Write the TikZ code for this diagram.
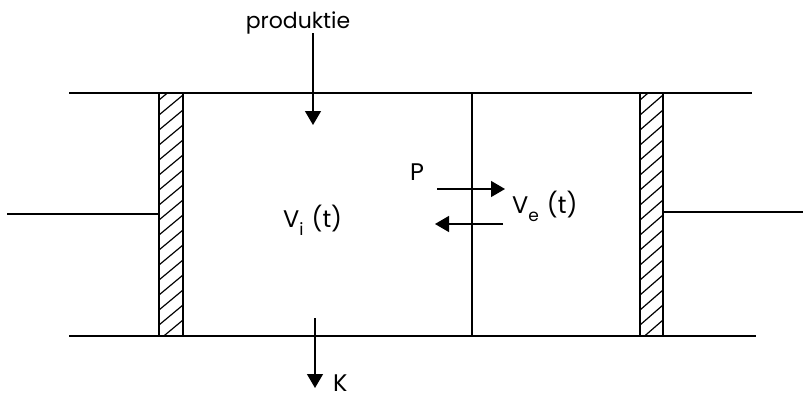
\documentclass[tikz,border=0pt]{standalone}
\usepackage{fontspec}
\setmainfont{Poppins}
\usetikzlibrary{arrows.meta}
\newcommand{\mysub}[1]{\raisebox{-0.36em}{\fontsize{17}{17}\selectfont #1}}
\begin{document}
\begin{tikzpicture}[x=1pt,y=-1pt,
  mainline/.style={line width=1.8pt},
  rodline/.style={line width=1.5pt},
  wallbox/.style={line width=2pt},
  hatchline/.style={line width=1.2pt},
  flow/.style={line width=1.3pt,-{Triangle[width=16pt,length=14pt]}},
  lbl/.style={inner sep=0pt,font=\fontsize{24}{26}\selectfont},
  smalllbl/.style={inner sep=0pt,font=\fontsize{22}{24}\selectfont},
  ]
\useasboundingbox (0,0) rectangle (803,399);
% coordinates
\coordinate (TL) at (69,93);
\coordinate (TR) at (752,93);
\coordinate (BL) at (69,336);
\coordinate (BR) at (756,336);
\coordinate (LRa) at (7,214);
\coordinate (LRb) at (159,214);
\coordinate (RRa) at (663,212);
\coordinate (RRb) at (803,212);
\coordinate (MT) at (472,93);
\coordinate (MB) at (472,336);
\coordinate (PA) at (313,33);
\coordinate (PB) at (313,125);
\coordinate (KA) at (315,318);
\coordinate (KB) at (315,388);
\coordinate (RA) at (437,189);
\coordinate (RB) at (505,189);
\coordinate (LA) at (503,224);
\coordinate (LB) at (435,224);
% main lines
\draw[mainline] (TL) -- (TR);
\draw[mainline] (BL) -- (BR);
\draw[rodline] (LRa) -- (LRb);
\draw[rodline] (RRa) -- (RRb);
\draw[rodline] (MT) -- (MB);
% hatched walls
\foreach \xa/\xb in {159/183, 640/663}{
  \begin{scope}
    \clip (\xa,93) rectangle (\xb,336);
    \foreach \yy in {100,115,...,380}{
      \draw[hatchline] (\xa,\yy) -- (\xb,\yy-20);
    }
  \end{scope}
  \draw[wallbox] (\xa,93) rectangle (\xb,336);
}
% arrows
\draw[flow] (PA) -- (PB);
\draw[flow] (KA) -- (KB);
\draw[flow] (RA) -- (RB);
\draw[flow] (LA) -- (LB);
% labels
\node[smalllbl,anchor=base] (prod) at (298,28) {produktie};
\node[lbl,anchor=base west] (Vi) at (283,227) {V\mysub{i}\,\,(t)};
\node[lbl,anchor=base west] (Ve) at (512,213) {V\mysub{e}\,\,(t)};
\node[lbl,anchor=base west] (P) at (410,180) {P};
\node[lbl,anchor=base west] (K) at (333,391) {K};
\end{tikzpicture}
\end{document}
